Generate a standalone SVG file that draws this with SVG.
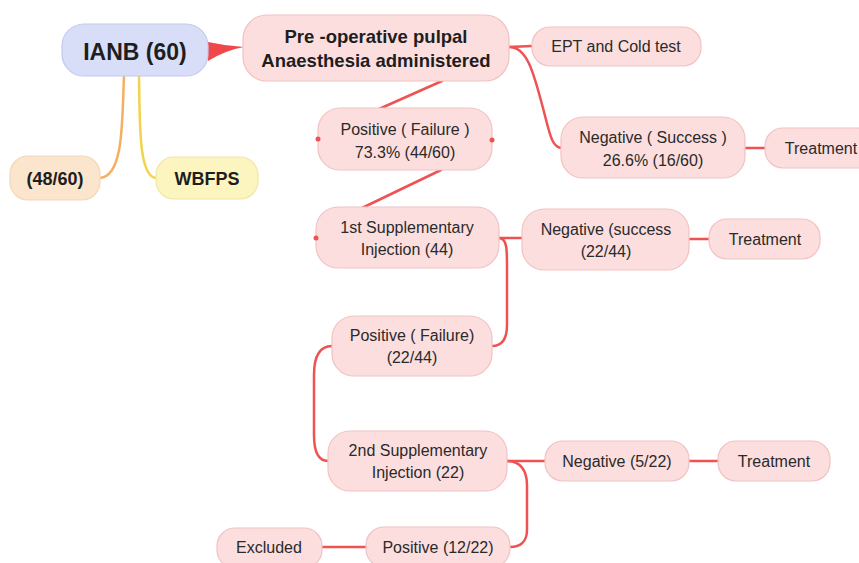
<svg xmlns="http://www.w3.org/2000/svg" width="859" height="563" viewBox="0 0 859 563">
<style>
.bg{fill:#ffffff}
.n rect{fill:#fcdede;stroke:#f2c2c2;stroke-width:1.2}
.t{font-family:"Liberation Sans",Arial,sans-serif;font-size:16px;fill:#2a2a2a;text-anchor:middle}
.b{font-weight:bold;fill:#1e1e1e}
.s23{font-size:23px}
.s18{font-size:18px}
.s185{font-size:18.5px}
.c{fill:none;stroke:#ee5252;stroke-width:2.5;stroke-linecap:round}
.dot{fill:#ee5252}
</style>
<rect class="bg" x="0" y="0" width="859" height="563"/>
<g id="connectors">
  <path d="M124,76 C122,120 124,176 100,178" fill="none" stroke="#f4b060" stroke-width="2.5"/>
  <path d="M139,76 C140,120 138,176 156,178" fill="none" stroke="#f2d34a" stroke-width="2.5"/>
  <path d="M208,42 Q226,46 244,47 Q226,50 208,61 Z" fill="#f04848"/>
  <path class="c" d="M509,47 L532,46"/>
  <path class="c" d="M509,47 C528,47 534,75 543,108 C550,135 552,148 562,148"/>
  <path class="c" d="M745,148 L765,148"/>
  <path class="c" d="M442,81 L379,109"/>
  <path class="c" d="M441,170 L362,208"/>
  <path class="c" d="M499,238 L522,238"/>
  <path class="c" d="M689,239 L709,239"/>
  <path class="c" d="M499,238 C507,238 507,250 507,265 L507,325 C507,340 501,346 492,346"/>
  <path class="c" d="M332,346 C319,346 314,358 314,375 L314,435 C314,452 318,461 328,461"/>
  <path class="c" d="M507,461 L545,461"/>
  <path class="c" d="M689,461 L718,461"/>
  <path class="c" d="M507,461 C520,461 527,470 527,485 L527,530 C527,542 520,547 510,547"/>
  <path class="c" d="M322,547 L366,547"/>
</g>
<g id="ianb">
  <rect x="62" y="24" width="146" height="52" rx="22" fill="#d8ddf8" stroke="#c4caee" stroke-width="1.2"/>
  <text class="t b s23" x="135" y="60">IANB (60)</text>
</g>
<g id="n4860">
  <rect x="10" y="156" width="90" height="44" rx="18" fill="#fbe5cd" stroke="#f3d8b8" stroke-width="1.2"/>
  <text class="t b s18" x="55" y="185">(48/60)</text>
</g>
<g id="wbfps">
  <rect x="156" y="157" width="102" height="42" rx="18" fill="#fdf5bf" stroke="#f1e6a6" stroke-width="1.2"/>
  <text class="t b s18" x="207" y="185">WBFPS</text>
</g>
<g id="preop" class="n">
  <rect x="243" y="15" width="266" height="66" rx="24"/>
  <text class="t b s185" x="376" y="43">Pre -operative pulpal</text>
  <text class="t b s185" x="376" y="67">Anaesthesia administered</text>
</g>
<g id="ept" class="n">
  <rect x="532" y="27" width="169" height="39" rx="18"/>
  <text class="t" x="616" y="52">EPT and Cold test</text>
</g>
<g id="negsuccess" class="n">
  <rect x="561" y="117" width="184" height="61" rx="22"/>
  <text class="t" x="653" y="143">Negative ( Success )</text>
  <text class="t" x="653" y="166">26.6% (16/60)</text>
</g>
<g id="treat1" class="n">
  <rect x="765" y="128" width="110" height="40" rx="18"/>
  <text class="t" x="821" y="154">Treatment</text>
</g>
<g id="pos1" class="n">
  <rect x="318" y="108" width="174" height="62" rx="22"/>
  <text class="t" x="405" y="135">Positive ( Failure )</text>
  <text class="t" x="405" y="158">73.3% (44/60)</text>
  <circle class="dot" cx="318" cy="139" r="2.5"/>
  <circle class="dot" cx="492" cy="140" r="2.5"/>
</g>
<g id="supp1" class="n">
  <rect x="316" y="207" width="183" height="61" rx="22"/>
  <text class="t" x="407" y="233">1st Supplementary</text>
  <text class="t" x="407" y="255">Injection (44)</text>
  <circle class="dot" cx="316" cy="238" r="2.5"/>
</g>
<g id="neg2" class="n">
  <rect x="522" y="209" width="167" height="61" rx="22"/>
  <text class="t" x="606" y="235">Negative (success</text>
  <text class="t" x="606" y="257">(22/44)</text>
</g>
<g id="treat2" class="n">
  <rect x="709" y="219" width="111" height="40" rx="18"/>
  <text class="t" x="765" y="245">Treatment</text>
</g>
<g id="pos2" class="n">
  <rect x="332" y="316" width="160" height="60" rx="22"/>
  <text class="t" x="412" y="341">Positive ( Failure)</text>
  <text class="t" x="412" y="363">(22/44)</text>
</g>
<g id="supp2" class="n">
  <rect x="328" y="431" width="179" height="60" rx="22"/>
  <text class="t" x="418" y="456">2nd Supplementary</text>
  <text class="t" x="418" y="478">Injection (22)</text>
</g>
<g id="neg3" class="n">
  <rect x="545" y="441" width="144" height="40" rx="18"/>
  <text class="t" x="617" y="467">Negative (5/22)</text>
</g>
<g id="treat3" class="n">
  <rect x="718" y="441" width="112" height="40" rx="18"/>
  <text class="t" x="774" y="467">Treatment</text>
</g>
<g id="pos3" class="n">
  <rect x="366" y="527" width="144" height="40" rx="18"/>
  <text class="t" x="438" y="553">Positive (12/22)</text>
</g>
<g id="excluded" class="n">
  <rect x="217" y="528" width="105" height="40" rx="18"/>
  <text class="t" x="269" y="553">Excluded</text>
</g>
</svg>
